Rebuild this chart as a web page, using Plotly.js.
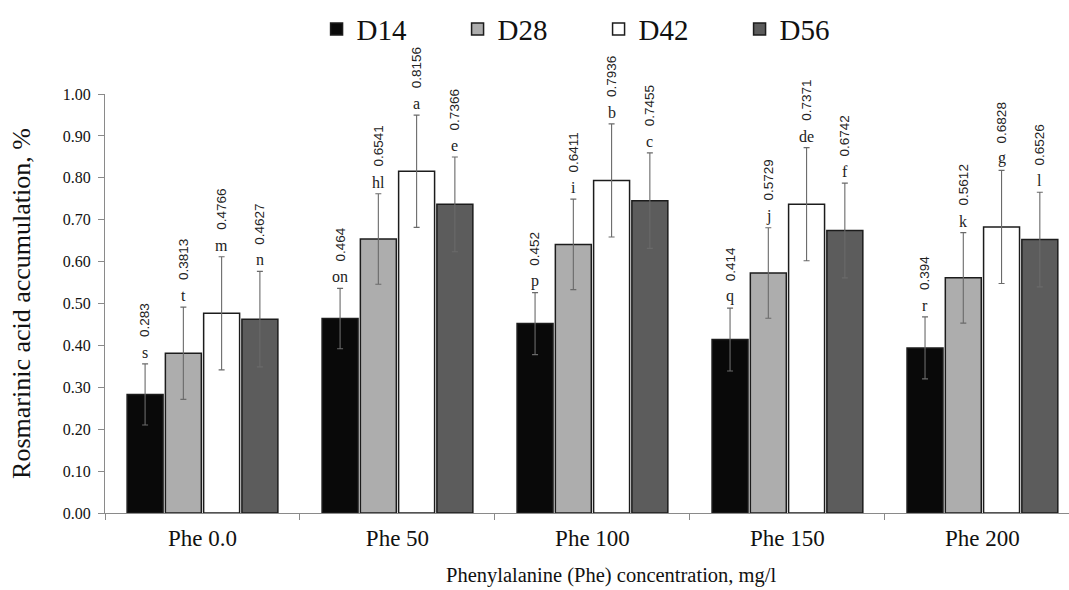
<!DOCTYPE html>
<html>
<head>
<meta charset="utf-8">
<script src="https://cdn.plot.ly/plotly-3.0.1.min.js"></script>
<style>html,body{margin:0;padding:0;background:#fff;overflow:hidden}</style>
</head>
<body>
<div id="chart" style="width:1069px;height:590px"></div>
<script>
const categories = ["Phe 0.0", "Phe 50", "Phe 100", "Phe 150", "Phe 200"];
const seriesNames = ["D14", "D28", "D42", "D56"];
const D14 = [0.283, 0.464, 0.452, 0.414, 0.394];
const D28 = [0.3813, 0.6541, 0.6411, 0.5729, 0.5612];
const D42 = [0.4766, 0.8156, 0.7936, 0.7371, 0.6828];
const D56 = [0.4627, 0.7366, 0.7455, 0.6742, 0.6526];
const errD14 = [0.073, 0.072, 0.074, 0.075, 0.074];
const errD28 = [0.110, 0.108, 0.108, 0.108, 0.108];
const errD42 = [0.135, 0.134, 0.135, 0.135, 0.135];
const errD56 = [0.114, 0.113, 0.114, 0.113, 0.113];
const lettersD14 = ["s", "on", "p", "q", "r"];
const lettersD28 = ["t", "hl", "i", "j", "k"];
const lettersD42 = ["m", "a", "b", "de", "g"];
const lettersD56 = ["n", "e", "c", "f", "l"];
const yTickVals = [0, 0.1, 0.2, 0.3, 0.4, 0.5, 0.6, 0.7, 0.8, 0.9, 1.0];

const values = [D14, D28, D42, D56];
const errs = [errD14, errD28, errD42, errD56];
const letters = [lettersD14, lettersD28, lettersD42, lettersD56];
const fills = ["#090909", "#adadad", "#ffffff", "#5c5c5c"];

const bargap = 0.215;
const slot = (1 - bargap) / seriesNames.length;

const traces = seriesNames.map((name, j) => ({
  type: "bar",
  name: name,
  x: categories,
  y: values[j],
  marker: {color: fills[j], line: {color: "#1c1c1c", width: 1.5}},
  error_y: {type: "data", array: errs[j], visible: true, color: "#6a6a6a", thickness: 1.1, width: 3}
}));

const annotations = [];
for (let j = 0; j < seriesNames.length; j++) {
  for (let i = 0; i < categories.length; i++) {
    const xpos = i + (j - 1.5) * slot;
    const ytop = values[j][i] + errs[j][i];
    annotations.push({
      x: xpos, y: ytop, xref: "x", yref: "y", showarrow: false,
      text: letters[j][i], yanchor: "bottom", xanchor: "center", yshift: 1,
      font: {family: "Liberation Serif, serif", size: 16, color: "#222"}
    });
    annotations.push({
      x: xpos, y: ytop, xref: "x", yref: "y", showarrow: false,
      text: String(values[j][i]), textangle: -90, yanchor: "bottom", xanchor: "center", yshift: 25,
      font: {family: "Liberation Sans, Arial, sans-serif", size: 13.5, color: "#222"}
    });
  }
}
annotations.push({
  xref: "paper", yref: "paper", x: 0.525, y: -0.15, showarrow: false,
  xanchor: "center", yanchor: "middle",
  text: "Phenylalanine (Phe) concentration, mg/l",
  font: {family: "Liberation Serif, serif", size: 20.5, color: "#111"}
});

const layout = {
  width: 1069, height: 590,
  margin: {l: 105, r: 0, t: 94, b: 77},
  paper_bgcolor: "#fff", plot_bgcolor: "#fff",
  barmode: "group", bargap: bargap, bargroupgap: 0.06,
  showlegend: true,
  legend: {
    orientation: "h", x: 0.512, xanchor: "center", y: 1.155, yanchor: "middle",
    font: {family: "Liberation Serif, serif", size: 29, color: "#111"},
    entrywidth: 96, entrywidthmode: "pixels", itemwidth: 30
  },
  xaxis: {
    type: "category", range: [-0.5, 4.444],
    showline: true, linecolor: "#8a8a8a", linewidth: 1,
    ticks: "outside", tickson: "boundaries", ticklen: 6, tickcolor: "#8a8a8a",
    ticklabelstandoff: 4,
    tickfont: {family: "Liberation Serif, serif", size: 23, color: "#111"},
    showgrid: false, zeroline: false
  },
  yaxis: {
    range: [0, 1.0], tickvals: yTickVals,
    tickformat: ".2f",
    showline: true, linecolor: "#8a8a8a", linewidth: 1,
    ticks: "outside", ticklen: 6, tickcolor: "#8a8a8a",
    ticklabelstandoff: 4,
    tickfont: {family: "Liberation Serif, serif", size: 16, color: "#111"},
    showgrid: false, zeroline: false,
    title: {text: "Rosmarinic acid accumulation, %", standoff: 24,
      font: {family: "Liberation Serif, serif", size: 26, color: "#111"}}
  },
  annotations: annotations
};

Plotly.newPlot("chart", traces, layout, {staticPlot: true, displayModeBar: false});
</script>
</body>
</html>
